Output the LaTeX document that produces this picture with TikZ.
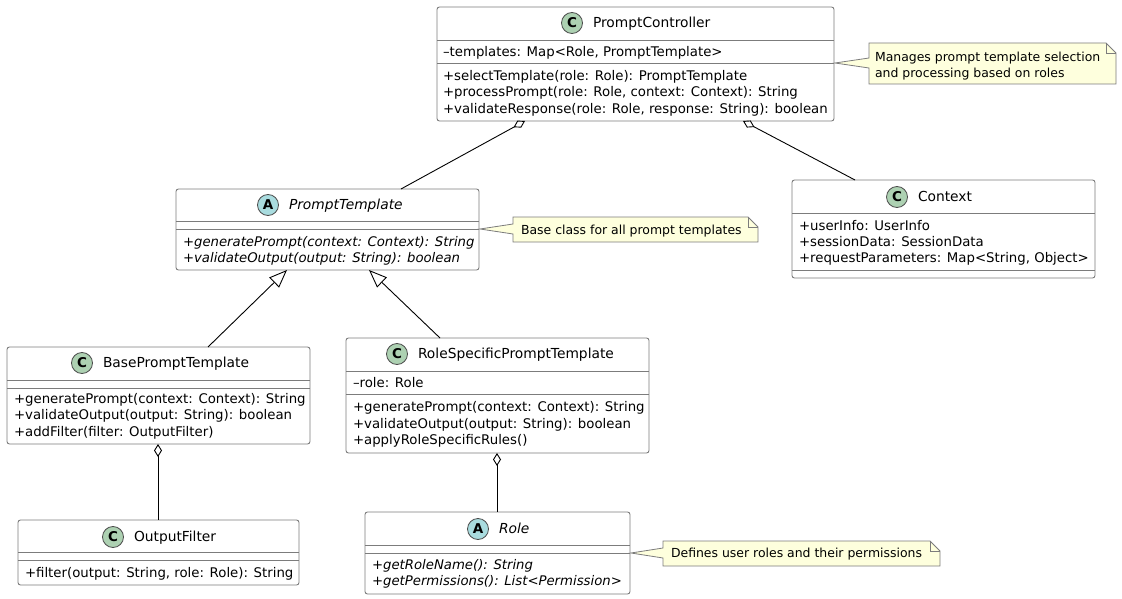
\documentclass[tikz,border=0pt]{standalone}
\usepackage{fontspec}
\setmainfont{DejaVu Sans}
\usetikzlibrary{arrows.meta}
\definecolor{classC}{HTML}{ADD1B2}
\definecolor{classA}{HTML}{A9DCDF}
\definecolor{notebg}{HTML}{FEFFDD}
\definecolor{edge}{HTML}{7C7C7C}
\tikzset{
  x=1pt,y=-1pt,
  cbox/.style={draw=edge,line width=0.9pt,rounded corners=2.5pt,fill=white,inner sep=0pt,outer sep=0pt},
  sepline/.style={draw=edge,line width=0.9pt},
  txt/.style={anchor=base west,inner sep=0pt,outer sep=0pt,text=black,font=\fontsize{13.3}{15}\selectfont},
  itxt/.style={txt,font=\fontsize{13.25}{15}\selectfont\itshape},
  ttl/.style={txt,font=\fontsize{13.8}{15}\selectfont},
  ntxt/.style={txt,font=\fontsize{12.45}{14}\selectfont},
  notebox/.style={draw=edge,line width=0.8pt,fill=notebg,line join=miter},
  badge/.style={circle,draw=black!70,line width=0.8pt,minimum size=21pt,inner sep=0pt,font=\fontsize{13.5}{14}\bfseries\selectfont},
  conn/.style={draw=black,line width=0.9pt},
  agg/.style={conn,{Diamond[open,length=13pt,width=8pt,fill=white]}-},
  inh/.style={conn,{Triangle[open,length=18pt,width=14pt,fill=white]}-},
}
\newcommand{\classbox}[5]{%
  \pgfmathsetmacro{\bw}{#4-#2}\pgfmathsetmacro{\bh}{#5-#3}%
  \pgfmathsetmacro{\bx}{(#4+#2)/2}\pgfmathsetmacro{\by}{(#5+#3)/2}%
  \node[cbox,minimum width=\bw pt,minimum height=\bh pt] (#1) at (\bx,\by) {};}
\newcommand{\lbl}[5][txt]{\path (#3,#4) ++(0,4.5) node[#1] (#2) {#5};}
\newcommand{\badgeat}[5]{\node[badge,fill=#4] (#1) at (#2,#3) {#5};}
\newcommand{\notepath}[6]{% x1 y1 x2 y2 tipx tipy
  \draw[notebox] (#1,#2) -- (#3-10,#2) -- (#3,#2+10) -- (#3,#4) -- (#1,#4) -- (#1,#6+5) -- (#5,#6) -- (#1,#6-5) -- cycle;
  \draw[notebox,fill=none] (#3-10,#2) -- (#3-10,#2+10) -- (#3,#2+10);}
\begin{document}
\begin{tikzpicture}
\useasboundingbox (0,0) rectangle (1122,599);
% PromptController
\classbox{PC}{437}{7}{834}{121}
\draw[sepline] (437,40) -- (834,40) (437,63) -- (834,63);
\badgeat{PCb}{572}{23}{classC}{C}
\lbl[ttl]{PCt}{593}{23}{PromptController}
\lbl{PC1}{443}{52}{–templates: Map<Role, PromptTemplate>}
\lbl{PC2}{443}{76}{+selectTemplate(role: Role): PromptTemplate}
\lbl{PC3}{443}{92}{+processPrompt(role: Role, context: Context): String}
\lbl{PC4}{443}{109}{+validateResponse(role: Role, response: String): boolean}
% Note 1
\notepath{869}{43}{1116}{84}{835}{63}
\lbl[ntxt]{N1a}{875}{57}{Manages prompt template selection}
\lbl[ntxt]{N1b}{875}{73}{and processing based on roles}
% PromptTemplate
\classbox{PT}{176}{189}{479}{270}
\draw[sepline] (176,221) -- (479,221) (176,229) -- (479,229);
\badgeat{PTb}{268}{205}{classA}{A}
\lbl[ttl]{PTt}{289}{205}{\itshape PromptTemplate}
\lbl[itxt]{PT1}{183}{242}{+generatePrompt(context: Context): String}
\lbl[itxt]{PT2}{183}{258}{+validateOutput(output: String): boolean}
% Note 2
\notepath{513}{217}{758}{242}{480}{229}
\lbl[ntxt]{N2a}{521}{230}{Base class for all prompt templates}
% Context
\classbox{CT}{792}{180}{1095}{278}
\draw[sepline] (792,213) -- (1095,213) (792,270) -- (1095,270);
\badgeat{CTb}{897}{197}{classC}{C}
\lbl[ttl]{CTt}{918}{197}{Context}
\lbl{CT1}{799}{226}{+userInfo: UserInfo}
\lbl{CT2}{799}{242}{+sessionData: SessionData}
\lbl{CT3}{799}{258}{+requestParameters: Map<String, Object>}
% BasePromptTemplate
\classbox{BP}{7}{347}{310}{444}
\draw[sepline] (7,380) -- (310,380) (7,388) -- (310,388);
\badgeat{BPb}{82}{363}{classC}{C}
\lbl[ttl]{BPt}{103}{363}{BasePromptTemplate}
\lbl{BP1}{14}{399}{+generatePrompt(context: Context): String}
\lbl{BP2}{14}{415}{+validateOutput(output: String): boolean}
\lbl{BP3}{14}{432}{+addFilter(filter: OutputFilter)}
% RoleSpecificPromptTemplate
\classbox{RS}{346}{338}{649}{453}
\draw[sepline] (346,371) -- (649,371) (346,394) -- (649,394);
\badgeat{RSb}{397}{354}{classC}{C}
\lbl[ttl]{RSt}{418}{354}{RoleSpecificPromptTemplate}
\lbl{RS0}{353}{383}{–role: Role}
\lbl{RS1}{353}{407}{+generatePrompt(context: Context): String}
\lbl{RS2}{353}{424}{+validateOutput(output: String): boolean}
\lbl{RS3}{353}{440}{+applyRoleSpecificRules()}
% OutputFilter
\classbox{OF}{18}{520}{299}{585}
\draw[sepline] (18,552) -- (299,552) (18,560) -- (299,560);
\badgeat{OFb}{113}{537}{classC}{C}
\lbl[ttl]{OFt}{134}{537}{OutputFilter}
\lbl{OF1}{25}{573}{+filter(output: String, role: Role): String}
% Role
\classbox{RL}{365}{512}{630}{594}
\draw[sepline] (365,545) -- (630,545) (365,553) -- (630,553);
\badgeat{RLb}{478}{529}{classA}{A}
\lbl[ttl]{RLt}{499}{529}{\itshape Role}
\lbl[itxt]{RL1}{372}{565}{+getRoleName(): String}
\lbl[itxt]{RL2}{372}{581}{+getPermissions(): List<Permission>}
% Note 3
\notepath{663}{541}{940}{566}{631}{553}
\lbl[ntxt]{N3a}{671}{553}{Defines user roles and their permissions}
% Connectors
\draw[agg] ([xshift=88pt]PC.south west) -- ([xshift=225pt]PT.north west);
\draw[agg] ([xshift=306pt]PC.south west) -- ([xshift=63pt]CT.north west);
\draw[inh] ([xshift=111pt]PT.south west) -- ([xshift=201pt]BP.north west);
\draw[inh] ([xshift=193pt]PT.south west) -- ([xshift=94pt]RS.north west);
\draw[agg] ([xshift=151pt]BP.south west) -- ([xshift=140pt]OF.north west);
\draw[agg] ([xshift=151pt]RS.south west) -- ([xshift=132pt]RL.north west);
\end{tikzpicture}
\end{document}
